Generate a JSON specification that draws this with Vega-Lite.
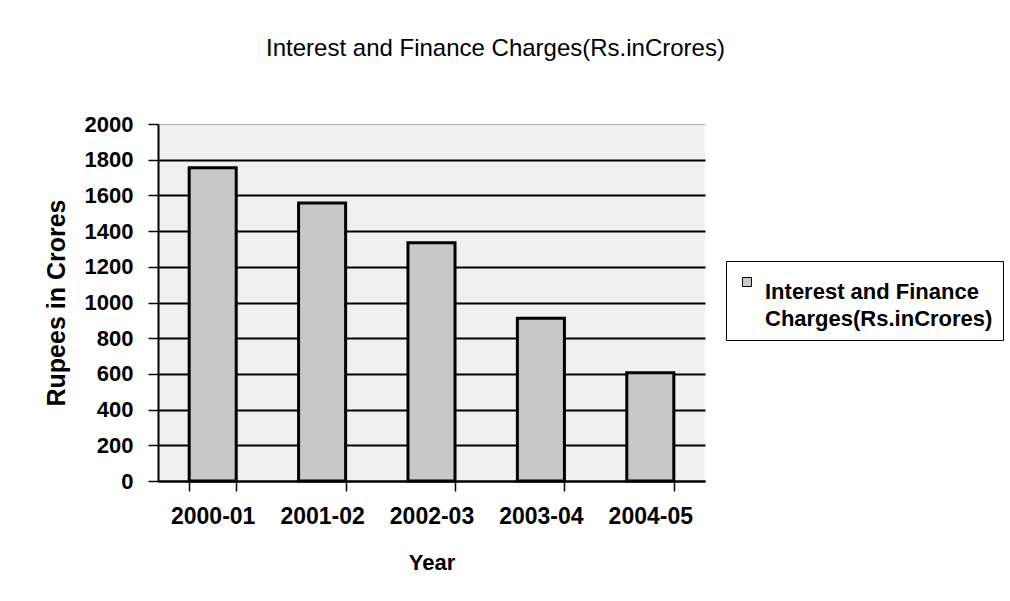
{
  "$schema": "https://vega.github.io/schema/vega-lite/v6.json",
  "width": 547,
  "height": 357,
  "autosize": {"type": "none"},
  "padding": {"left": 158, "top": 124, "right": 305, "bottom": 120},
  "background": "white",
  "title": {
    "text": "Interest and Finance Charges(Rs.inCrores)",
    "font": "Liberation Sans",
    "fontSize": 24,
    "fontWeight": "normal",
    "color": "black",
    "anchor": "middle",
    "dx": 64,
    "offset": 52
  },
  "data": {
    "values": [
      {"year": "2000-01", "value": 1755, "series": "Interest and Finance Charges(Rs.inCrores)"},
      {"year": "2001-02", "value": 1558, "series": "Interest and Finance Charges(Rs.inCrores)"},
      {"year": "2002-03", "value": 1335, "series": "Interest and Finance Charges(Rs.inCrores)"},
      {"year": "2003-04", "value": 912, "series": "Interest and Finance Charges(Rs.inCrores)"},
      {"year": "2004-05", "value": 607, "series": "Interest and Finance Charges(Rs.inCrores)"}
    ]
  },
  "mark": {"type": "bar", "stroke": "black", "strokeWidth": 3},
  "encoding": {
    "x": {
      "field": "year",
      "type": "ordinal",
      "title": "Year",
      "scale": {"paddingInner": 0.57, "paddingOuter": 0.285},
      "axis": {
        "labelAngle": 0,
        "domainColor": "black",
        "domainWidth": 2,
        "tickColor": "black",
        "tickWidth": 1.5,
        "tickSize": 10,
        "tickBand": "extent",
        "labelFont": "Liberation Sans",
        "labelFontSize": 23,
        "labelFontWeight": "bold",
        "labelColor": "black",
        "labelPadding": 14,
        "titleFont": "Liberation Sans",
        "titleFontSize": 22,
        "titleFontWeight": "bold",
        "titleColor": "black",
        "titlePadding": 24
      }
    },
    "y": {
      "field": "value",
      "type": "quantitative",
      "title": "Rupees in Crores",
      "scale": {"domain": [0, 2000], "nice": false},
      "axis": {
        "values": [0, 200, 400, 600, 800, 1000, 1200, 1400, 1600, 1800, 2000],
        "format": "d",
        "grid": true,
        "gridColor": {"condition": {"test": "datum.value === 2000", "value": "#b0b0b0"}, "value": "black"},
        "gridWidth": {"condition": {"test": "datum.value === 2000", "value": 1}, "value": 2},
        "domainColor": "black",
        "domainWidth": 2,
        "tickColor": "black",
        "tickWidth": 1.5,
        "tickSize": 10,
        "labelFont": "Liberation Sans",
        "labelFontSize": 22,
        "labelFontWeight": "bold",
        "labelColor": "black",
        "labelPadding": 15,
        "titleFont": "Liberation Sans",
        "titleFontSize": 25,
        "titleFontWeight": "bold",
        "titleColor": "black",
        "titlePadding": 15
      }
    },
    "color": {
      "field": "series",
      "type": "nominal",
      "scale": {"range": ["#c8c8c8"]},
      "legend": {
        "orient": "none",
        "legendX": 568,
        "legendY": 137,
        "title": null,
        "labelExpr": "['Interest and Finance', 'Charges(Rs.inCrores)']",
        "labelBaseline": "top",
        "labelFont": "Liberation Sans",
        "labelFontSize": 22,
        "labelFontWeight": "bold",
        "labelColor": "black",
        "labelLimit": 400,
        "labelOffset": 7,
        "symbolType": "square",
        "symbolSize": 81,
        "symbolStrokeColor": "black",
        "symbolStrokeWidth": 1,
        "strokeColor": "black",
        "fillColor": "white",
        "padding": 10
      }
    }
  },
  "config": {
    "view": {"fill": "#f0f0f0", "stroke": null},
    "style": {"guide-label": {"lineHeight": 27}}
  }
}
